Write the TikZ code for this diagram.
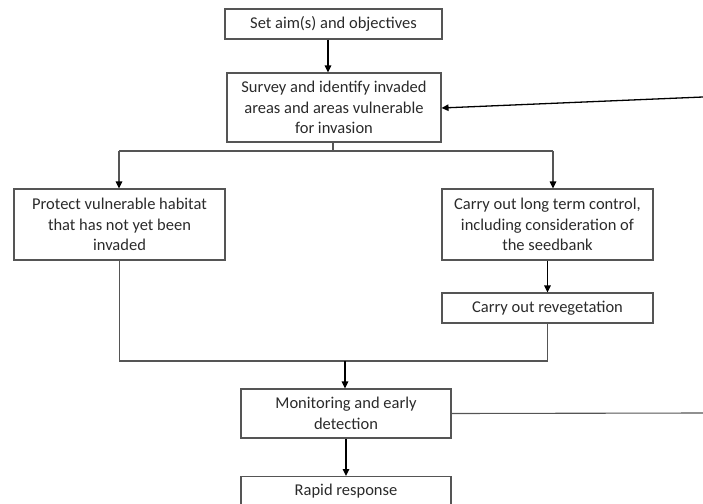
\documentclass[tikz,border=0pt]{standalone}
\usepackage{fontspec}
\setmainfont{Carlito}
\usetikzlibrary{arrows.meta}
\definecolor{boxline}{HTML}{555555}
\definecolor{txt}{HTML}{2A2A2A}
\begin{document}
\begin{tikzpicture}[x=1pt,y=-1pt,
  txtstyle/.style={font=\fontsize{16.5}{20.5}\selectfont,text=txt,align=center},
  box/.style={draw=boxline,line width=1.1pt,rectangle,inner sep=0pt,txtstyle},
  arr/.style={draw=black,line width=1.3pt,-{Triangle[length=7pt,width=6.5pt]}},
  garr/.style={draw=boxline,line width=1.1pt,-{Triangle[length=7pt,width=6.5pt,color=black]}},
  ln/.style={draw=boxline,line width=1.1pt}]
\useasboundingbox (0,0) rectangle (703,503);
\begin{scope}
\clip (0,0) rectangle (703,503);
\node[box,minimum width=217,minimum height=30] (b1) at (333.5,24) {Set aim(s) and objectives};
\node[box,minimum width=214,minimum height=69] (b2) at (334,107.5) {Survey and identify invaded\\areas and areas vulnerable\\for invasion};
\node[box,minimum width=211,minimum height=71] (lt) at (119.5,224.5) {Protect vulnerable habitat\\that has not yet been\\invaded};
\node[box,minimum width=211,minimum height=71] (rt) at (547.5,224.5) {Carry out long term control,\\including consideration of\\the seedbank};
\node[box,minimum width=211,minimum height=30] (rv) at (547.5,308) {Carry out revegetation};
\node[box,minimum width=210,minimum height=49] (mo) at (346,413.5) {Monitoring and early\\detection};
\node[box,minimum width=210,minimum height=49,anchor=north] (rr) at (346,476) {};
\node[txtstyle] (rrt) at (346,491) {Rapid response};

\coordinate (j1) at (333,151);
\coordinate (jl) at (119,151);
\coordinate (jr) at (553,151);
\coordinate (j2) at (345,361);
\coordinate (fb) at (703,97);
\coordinate (me) at (703,413);

\draw[arr] ([xshift=-5.5pt]b1.south) -- ([xshift=-6pt]b2.north);
\draw[ln] (j1 |- b2.south) -- (j1);
\draw[ln] (jl) -- (jr);
\draw[garr] (jl) -- (jl |- lt.north);
\draw[garr] (jr) -- (jr |- rt.north);
\draw[arr] (rt.south) -- (rv.north);
\draw[ln] (lt.south) |- (j2);
\draw[ln] (rv.south) |- (j2);
\draw[arr] (j2) -- (j2 |- mo.north);
\draw[ln] (mo.east) -- (me);
\draw[arr] (mo.south) -- (rr.north);
\draw[arr] (fb) -- ([yshift=-0.5pt]b2.east);
\end{scope}
\end{tikzpicture}
\end{document}
